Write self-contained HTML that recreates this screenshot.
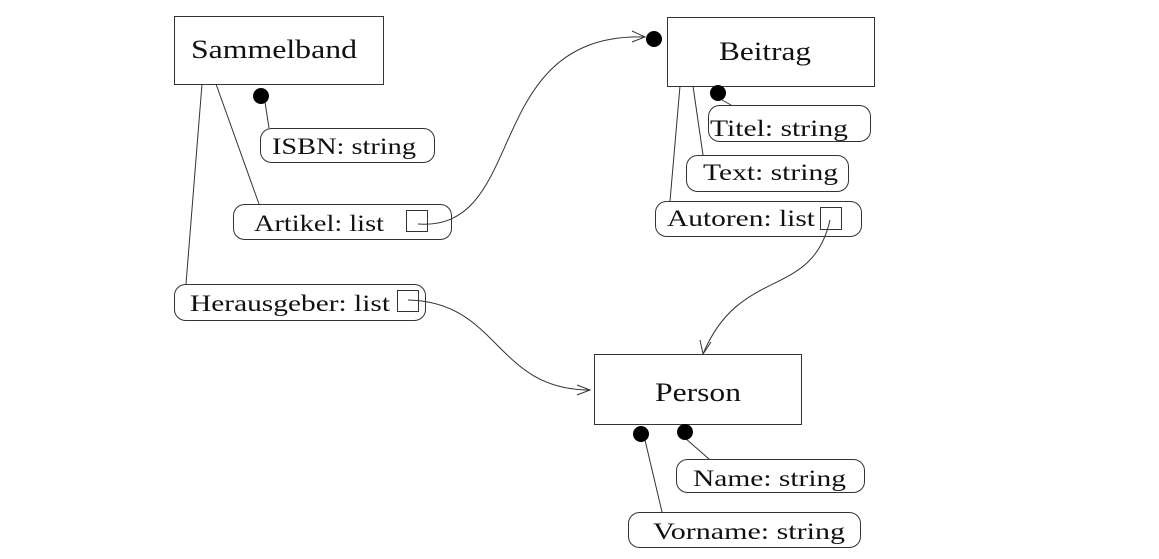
<!DOCTYPE html>
<html><head><meta charset="utf-8"><style>body{margin:0;background:#fff}svg{display:block}text{font-family:"Liberation Serif",serif;fill:#111}</style></head><body>
<svg width="1159" height="559" viewBox="0 0 1159 559" xmlns="http://www.w3.org/2000/svg">
<g fill="none" stroke="#333" stroke-width="1">
<rect x="174.5" y="16.5" width="209" height="68"/>
<rect x="667.5" y="17.5" width="207" height="69"/>
<rect x="594.5" y="354.5" width="207" height="70"/>
<rect x="260.5" y="128.5" width="174" height="34" rx="11"/>
<rect x="233.5" y="204.5" width="218" height="35" rx="11"/>
<rect x="174.5" y="284.5" width="251" height="36" rx="11"/>
<rect x="406.5" y="210.5" width="21" height="21"/>
<rect x="397.5" y="290.5" width="21" height="21"/>
<rect x="708.5" y="105.5" width="162" height="36" rx="11"/>
<rect x="686.5" y="155.5" width="162" height="36" rx="11"/>
<rect x="655.5" y="201.5" width="206" height="35" rx="11"/>
<rect x="820.5" y="207.5" width="21" height="22"/>
<rect x="676.5" y="459.5" width="188" height="33" rx="11"/>
<rect x="628.5" y="512.5" width="232" height="35" rx="11"/>
<line x1="265" y1="102" x2="269" y2="128"/>
<line x1="216" y1="84" x2="259" y2="204"/>
<line x1="202" y1="84" x2="186" y2="284"/>
<line x1="722" y1="100" x2="731" y2="105"/>
<line x1="693" y1="86" x2="703" y2="155"/>
<line x1="680" y1="86" x2="670" y2="201"/>
<line x1="685" y1="438" x2="709" y2="459"/>
<line x1="645" y1="440" x2="662" y2="512"/>
<path d="M418,224 C530,232 480,32 645,37"/>
<path d="M632,31 L645,37 L632,42"/>
<path d="M830,220 C812,300 740,265 703,354"/>
<path d="M700,340 L703,354 L711,342"/>
<path d="M408,300 C500,302 495,390 590,390"/>
<path d="M577,385 L590,390 L577,395"/>
</g>
<g fill="#000">
<circle cx="261" cy="96" r="8"/>
<circle cx="654" cy="39" r="8"/>
<circle cx="718" cy="93" r="8"/>
<circle cx="641" cy="434" r="8"/>
<circle cx="685" cy="432" r="8"/>
</g>
<g font-size="26" lengthAdjust="spacingAndGlyphs">
<text x="191" y="58" textLength="166" lengthAdjust="spacingAndGlyphs">Sammelband</text>
<text x="719" y="60" textLength="92" lengthAdjust="spacingAndGlyphs">Beitrag</text>
<text x="655" y="401" textLength="86" lengthAdjust="spacingAndGlyphs">Person</text>
</g>
<g font-size="23">
<text x="272" y="154" textLength="144" lengthAdjust="spacingAndGlyphs">ISBN: string</text>
<text x="254" y="231" textLength="130" lengthAdjust="spacingAndGlyphs">Artikel: list</text>
<text x="190" y="311" textLength="200" lengthAdjust="spacingAndGlyphs">Herausgeber: list</text>
<text x="710" y="136" textLength="138" lengthAdjust="spacingAndGlyphs">Titel: string</text>
<text x="703" y="180" textLength="135" lengthAdjust="spacingAndGlyphs">Text: string</text>
<text x="667" y="226" textLength="148" lengthAdjust="spacingAndGlyphs">Autoren: list</text>
<text x="693" y="486" textLength="153" lengthAdjust="spacingAndGlyphs">Name: string</text>
<text x="653" y="539" textLength="192" lengthAdjust="spacingAndGlyphs">Vorname: string</text>
</g>
</svg>
</body></html>
